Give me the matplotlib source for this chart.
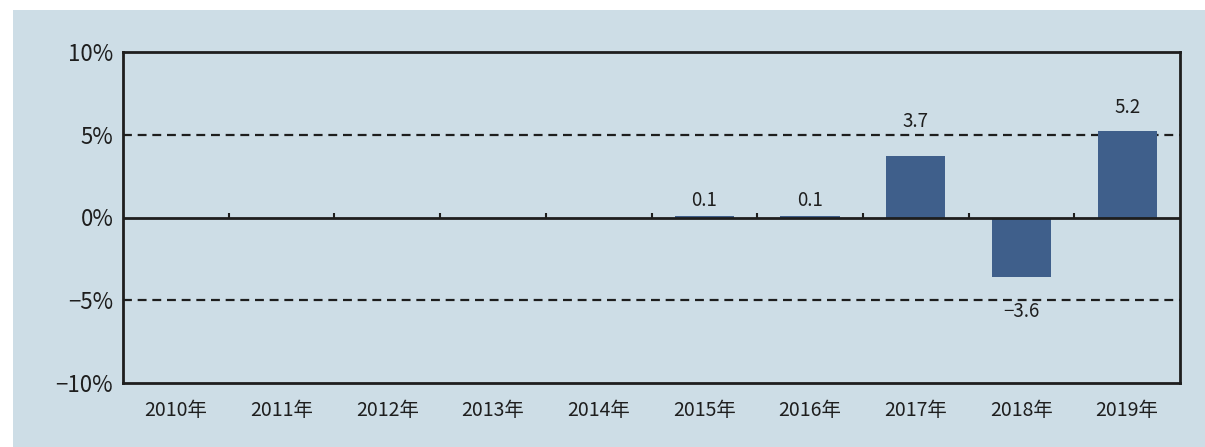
import matplotlib
matplotlib.use("Agg")
import matplotlib.pyplot as plt
from matplotlib.patches import Rectangle
import numpy as np

plt.rcParams['font.family'] = ['Noto Sans CJK JP', 'DejaVu Sans']

# Data
years = ["2010年", "2011年", "2012年", "2013年", "2014年",
         "2015年", "2016年", "2017年", "2018年", "2019年"]
growth = [np.nan, np.nan, np.nan, np.nan, np.nan, 0.1, 0.1, 3.7, -3.6, 5.2]
y_ticks = [-10, -5, 0, 5, 10]
y_tick_labels = ["−10%", "−5%", "0%", "5%", "10%"]

PANEL = "#cddde6"
BAR = "#3f5f8b"
INK = "#1e1e1e"

fig = plt.figure(figsize=(12.05, 4.47), dpi=100)
fig.patch.set_facecolor("white")
# light blue panel behind the chart
fig.patches.append(Rectangle((13 / 1205, 0), 1, 437 / 447, transform=fig.transFigure,
                             facecolor=PANEL, edgecolor="none", zorder=-10))

ax = fig.add_axes([123 / 1205, 64 / 447, 1057 / 1205, 331 / 447])
ax.set_facecolor(PANEL)

x = np.arange(len(years))
vals = np.array(growth, dtype=float)
ax.bar(x, np.nan_to_num(vals), width=0.56, color=BAR, zorder=3)

# value labels (offset in points, tuned per bar to follow the original)
offsets = {5: 11, 6: 11, 7: 25, 8: -25, 9: 17}
for i, v in enumerate(vals):
    if np.isnan(v):
        continue
    ax.annotate(f"{v:.1f}".replace("-", "−"), (x[i], v), xytext=(0, offsets[i]),
                textcoords="offset points", ha="center", va="center",
                fontsize=13.5, color=INK, zorder=5)

# reference lines
ax.axhline(0, color=INK, lw=2, zorder=4)
for yv in (5, -5):
    ax.axhline(yv, color=INK, lw=1.6, ls=(0, (4, 2.6)), zorder=2)

# small boundary ticks on the zero line
ax.vlines(x[:-1] + 0.5, 0, 0.3, color=INK, lw=1.5, zorder=4)

ax.set_xlim(-0.5, len(years) - 0.5)
ax.set_ylim(-10, 10)
ax.set_xticks(x)
ax.set_xticklabels(years, fontsize=14, color=INK)
ax.set_yticks(y_ticks)
ax.set_yticklabels(y_tick_labels, fontsize=16, color=INK)
ax.tick_params(axis="y", length=0, pad=7)
ax.tick_params(axis="x", length=0, pad=12)

for s in ax.spines.values():
    s.set_linewidth(2)
    s.set_color(INK)

fig.savefig("out.png", dpi=100, facecolor=fig.get_facecolor())
